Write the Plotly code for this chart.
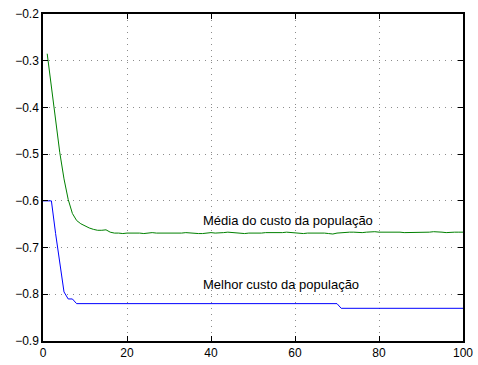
import plotly.graph_objects as go

# Generation index for each curve
geracoes_media = list(range(1, 101))
geracoes_melhor = list(range(0, 101))

# Mean cost of the population per generation
media = [
    -0.285, -0.360, -0.430, -0.497, -0.553, -0.597, -0.627, -0.642, -0.649, -0.654,
    -0.658, -0.661, -0.663, -0.663, -0.662, -0.667, -0.669, -0.669, -0.670, -0.669,
    -0.669, -0.668, -0.669, -0.670, -0.669, -0.668, -0.669, -0.669, -0.670, -0.669,
    -0.669, -0.670, -0.669, -0.668, -0.669, -0.669, -0.670, -0.670, -0.669, -0.668,
    -0.669, -0.669, -0.668, -0.667, -0.668, -0.669, -0.669, -0.670, -0.669, -0.669,
    -0.670, -0.669, -0.668, -0.668, -0.669, -0.669, -0.668, -0.667, -0.668, -0.669,
    -0.669, -0.670, -0.669, -0.669, -0.668, -0.668, -0.669, -0.670, -0.671, -0.669,
    -0.668, -0.668, -0.667, -0.667, -0.668, -0.668, -0.667, -0.666, -0.666, -0.667,
    -0.667, -0.666, -0.667, -0.667, -0.667, -0.668, -0.668, -0.667, -0.667, -0.668,
    -0.668, -0.667, -0.666, -0.666, -0.667, -0.668, -0.667, -0.667, -0.667, -0.667,
]

# Best cost of the population per generation (generations 0..100)
melhor = ([-0.600, -0.600, -0.600, -0.670, -0.735, -0.795, -0.810, -0.810]
          + [-0.820] * 63
          + [-0.830] * 30)

x_ticks = [0, 20, 40, 60, 80, 100]
y_ticks = [-0.9, -0.8, -0.7, -0.6, -0.5, -0.4, -0.3, -0.2]
y_tick_labels = ["\u22120.9", "\u22120.8", "\u22120.7", "\u22120.6",
                 "\u22120.5", "\u22120.4", "\u22120.3", "\u22120.2"]

rotulo_media = "Média do custo da população"
rotulo_melhor = "Melhor custo da população"

FONT = "Liberation Sans, Arial, Helvetica, sans-serif"

fig = go.Figure()
fig.add_trace(go.Scatter(x=geracoes_media, y=media, mode="lines",
                         line=dict(color="rgb(0,128,0)", width=1), showlegend=False))
fig.add_trace(go.Scatter(x=geracoes_melhor, y=melhor, mode="lines",
                         line=dict(color="rgb(0,0,255)", width=1), showlegend=False))

fig.add_annotation(x=37.5, y=-0.641, text=rotulo_media, showarrow=False,
                   xanchor="left", yanchor="middle",
                   font=dict(family=FONT, size=13, color="black"))
fig.add_annotation(x=37.5, y=-0.780, text=rotulo_melhor, showarrow=False,
                   xanchor="left", yanchor="middle",
                   font=dict(family=FONT, size=13, color="black"))

axis_common = dict(
    showline=True, linecolor="black", linewidth=1.5, mirror="ticks",
    ticks="inside", ticklen=5, tickcolor="black", tickwidth=1,
    showgrid=True, gridcolor="rgb(140,140,140)", gridwidth=1, griddash="1px,5px",
    zeroline=False, automargin=False,
    tickfont=dict(family=FONT, size=12, color="black"),
)

fig.update_xaxes(range=[0, 100], tickvals=x_ticks, **axis_common)
fig.update_yaxes(range=[-0.9, -0.2], tickvals=y_ticks, ticktext=y_tick_labels,
                 **axis_common)

fig.update_layout(
    width=478, height=365,
    margin=dict(l=43, r=15, t=14, b=24, autoexpand=False),
    plot_bgcolor="white", paper_bgcolor="white",
)

fig.write_html("out.html")
